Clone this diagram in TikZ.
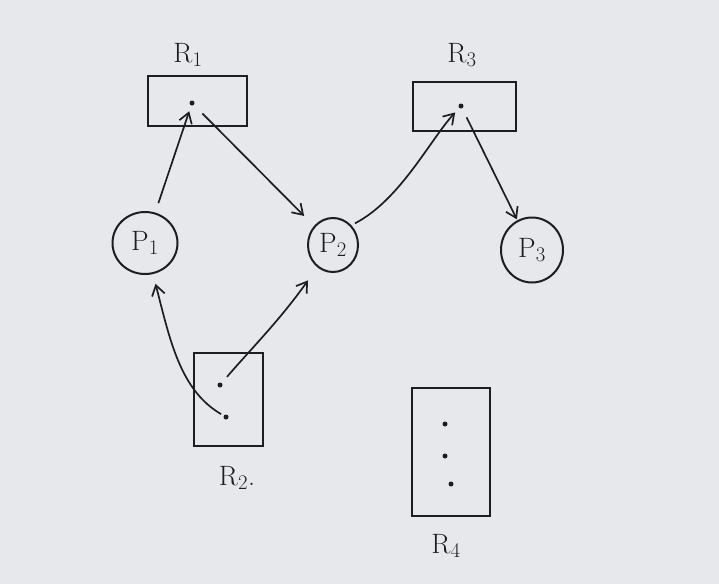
\documentclass[tikz,border=0pt]{standalone}
\usetikzlibrary{arrows.meta,shapes.geometric}
\definecolor{paper}{HTML}{E6E8EC}
\definecolor{ink}{HTML}{1E1E22}
\begin{document}
\begin{tikzpicture}[x=1pt,y=-1pt,
  proc/.style={draw=ink,line width=2pt,ellipse,inner sep=0pt,font=\fontsize{28}{31}\selectfont,text=ink},
  res/.style={draw=ink,line width=2.6pt},
  dotmark/.style={circle,fill=ink,inner sep=0pt,minimum size=5pt},
  lbl/.style={font=\fontsize{28}{31}\selectfont,text=ink},
  edge/.style={draw=ink,line width=1.7pt,-{Straight Barb[length=10pt,width=13pt,line width=1.7pt]}}]
\fill[paper] (0,0) rectangle (719,584);
\useasboundingbox (0,0) rectangle (719,584);
% resources
\draw[res] (148,76) rectangle (247,126);
\draw[res] (413,82) rectangle (516,131);
\draw[res] (194,353) rectangle (263,446);
\draw[res] (412,388) rectangle (490,516);
\node[dotmark] (r1a) at (192,103) {};
\node[dotmark] (r3a) at (461,106) {};
\node[dotmark] (r2a) at (220,385) {};
\node[dotmark] (r2b) at (226,417) {};
\node[dotmark] (r4a) at (445,424) {};
\node[dotmark] (r4b) at (445,456) {};
\node[dotmark] (r4c) at (451,484) {};
\node[lbl] (lR1) at (188,55) {R$_1$};
\node[lbl] (lR3) at (462,55) {R$_3$};
\node[lbl] (lR2) at (237,478) {R$_2$.};
\node[lbl] (lR4) at (446,546) {R$_4$};
% processes
\node[proc,minimum width=65pt,minimum height=62pt] (P1) at (145,243) {P$_1$};
\node[proc,minimum width=50pt,minimum height=54pt] (P2) at (333,245) {P$_2$};
\node[proc,minimum width=62pt,minimum height=65pt] (P3) at (532,250) {P$_3$};
% edges
\draw[edge,shorten <=10pt,shorten >=6pt] (P1) -- (r1a);
\draw[edge,shorten <=12pt,shorten >=14pt] (r1a) -- (P2);
\draw[edge,shorten <=4pt,shorten >=6pt] (P2.north east) .. controls (400,200) and (430,140) .. (r3a);
\draw[edge,shorten <=10pt,shorten >=1pt] (r3a) -- (P3);
\draw[edge,shorten <=3pt,shorten >=10pt] (r2b) .. controls (180,390) and (170,340) .. (P1);
\draw[edge,shorten <=8pt,shorten >=16pt] (r2a) .. controls (250,350) and (280,320) .. (P2);
\end{tikzpicture}
\end{document}
